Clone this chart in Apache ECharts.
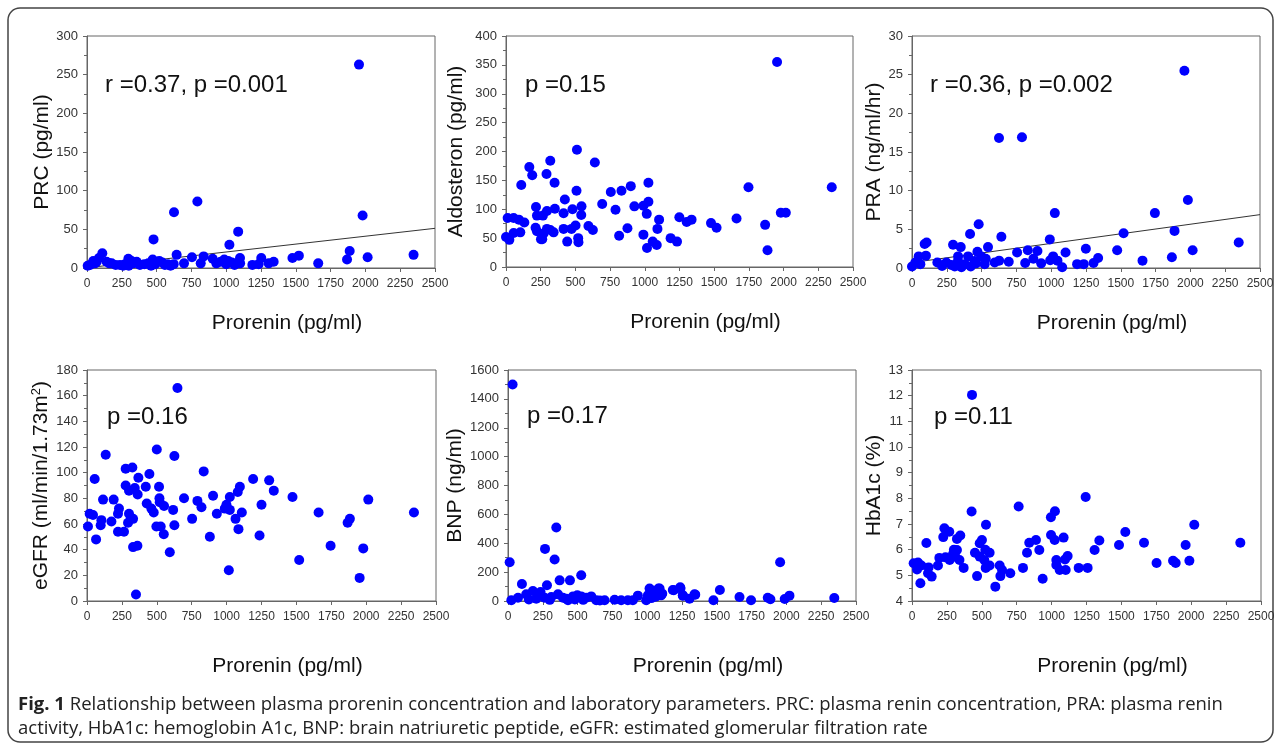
<!DOCTYPE html>
<html>
<head>
<meta charset="utf-8">
<script src="https://cdn.jsdelivr.net/npm/echarts@6/dist/echarts.min.js"></script>
<style>
  html, body { margin: 0; padding: 0; background: #fff; }
  #chart { width: 1281px; height: 749px; }
</style>
</head>
<body>
<div id="chart"></div>
<script>
// prorenin (x) vs parameter (y)
const prcPoints = [
  [1954,263],[1980,68],[793,86],[625,72],[478,37],[1086,47],[1023,30],[1887,22],[1868,11],[2016,14],
  [2346,17],[1661,6],[1476,13],[1522,16],[1341,8],[1305,6],[1252,13],[1233,5],[1188,4],[1099,13],
  [1075,6],[1041,7],[1015,9],[986,11],[929,6],[903,12],[838,15],[817,6],[754,14],[697,6],
  [644,17],[623,5],[580,5],[541,7],[508,8],[472,11],[440,6],[412,5],[357,8],[333,6],
  [297,12],[273,5],[237,4],[206,4],[177,6],[141,8],[110,19],[86,13],[57,6],[22,4],
  [5,3],[300,3],[320,9],[380,4],[460,3],[490,5],[520,9],[560,4],[600,3],[1060,4],
  [1100,6],[160,6],[260,3],[45,9],[70,8],[1000,5],[960,8]
];
const aldoPoints = [
  [1953,355],[2347,138],[1747,138],[1980,94],[2016,94],[1867,73],[1884,29],[1661,84],[1477,76],[1517,68],
  [1337,82],[1302,78],[1249,86],[1232,44],[1186,50],[1103,82],[1091,66],[1086,38],[1057,44],[1026,146],
  [1026,113],[1014,92],[1016,33],[990,106],[990,56],[925,105],[899,140],[875,67],[832,132],[815,54],
  [789,99],[755,130],[693,109],[640,181],[626,64],[594,71],[544,105],[542,90],[511,203],[508,132],
  [520,50],[522,43],[501,72],[479,100],[472,66],[441,44],[415,93],[424,117],[415,66],[350,146],
  [352,101],[319,184],[343,60],[319,64],[295,66],[271,58],[252,48],[292,161],[295,97],[261,48],
  [266,89],[216,104],[223,89],[213,68],[223,62],[189,159],[168,173],[132,77],[110,142],[103,60],
  [93,82],[55,85],[55,59],[12,85],[0,52],[24,47]
];
const praPoints = [
  [1957,25.5],[625,16.8],[790,16.9],[1982,8.8],[1745,7.1],[1026,7.1],[1520,4.5],[1886,4.8],[2347,3.3],[2016,2.3],
  [1867,1.4],[1656,0.95],[1474,2.3],[1337,1.3],[1304,0.65],[1249,2.5],[1234,0.5],[1186,0.5],[1103,2.0],[1079,0.1],
  [1045,0.95],[1014,1.5],[990,3.7],[993,1.0],[928,0.6],[901,2.2],[872,1.2],[832,2.3],[813,0.65],[755,2.0],
  [695,0.8],[642,4.05],[626,0.95],[594,0.7],[546,2.7],[479,5.65],[417,4.4],[470,2.1],[498,1.5],[522,0.5],
  [403,1.5],[422,0.2],[350,2.7],[295,3.0],[331,1.5],[283,0.4],[247,0.7],[216,0.26],[182,0.7],[105,3.3],
  [91,3.1],[100,1.6],[48,1.5],[24,0.7],[0,0.2],[307,0.2],[355,0.1],[379,0.5],[450,0.9],[330,0.9],
  [60,0.5],[530,1.2],[460,0.6]
];
const egfrPoints = [
  [648,166],[500,118],[626,113],[134,114],[277,103],[325,104],[55,95],[447,99],[368,96],[836,101],
  [1190,95],[1305,94],[1338,86],[1095,89],[1080,85],[516,89],[421,89],[277,90],[342,88],[301,86],
  [363,83],[428,76],[519,80],[521,77],[695,80],[191,79],[115,79],[903,82],[1023,81],[791,78],
  [820,73],[1472,81],[2015,79],[1250,75],[999,75],[987,72],[1023,71],[461,72],[478,69],[552,74],
  [229,72],[222,68],[19,68],[43,67],[617,71],[930,68],[1109,69],[1659,69],[2342,69],[301,68],
  [294,61],[330,64],[103,63],[98,59],[175,62],[1064,64],[753,64],[1883,64],[1867,61],[497,58],
  [528,58],[550,52],[626,59],[7,58],[222,54],[265,54],[1085,56],[880,50],[1236,51],[65,48],
  [1745,43],[330,42],[361,43],[1979,41],[593,38],[1520,32],[1016,24],[1953,18],[351,5]
];
const bnpPoints = [
  [33,1500],[12,268],[347,509],[266,361],[335,287],[1955,268],[526,178],[371,143],[445,143],[100,118],
  [280,109],[1522,76],[1184,76],[1237,95],[1017,86],[1081,86],[1048,62],[1108,51],[933,37],[1345,44],
  [1256,37],[1304,16],[1663,28],[1746,5],[1476,5],[1866,23],[1885,12],[1988,14],[2022,37],[2344,21],
  [179,69],[234,62],[131,46],[72,23],[24,5],[203,16],[263,23],[311,28],[359,46],[395,23],
  [431,5],[467,32],[498,39],[526,32],[562,23],[598,32],[634,5],[694,5],[766,9],[813,5],
  [861,5],[897,5],[993,5],[1005,39],[1029,74],[1065,62],[1089,86],[1100,39],[1191,74],[1239,86],
  [1256,39],[1340,46],[150,10],[300,8],[420,15],[480,10],[540,8],[660,4],[1030,20],[1060,30]
];
const hba1cPoints = [
  [430,12.03],[1244,8.05],[764,7.68],[427,7.49],[1024,7.5],[995,7.26],[2022,6.97],[530,6.97],[1528,6.69],[232,6.83],
  [267,6.7],[224,6.49],[346,6.55],[322,6.42],[501,6.38],[485,6.25],[103,6.26],[996,6.57],[1022,6.38],[1086,6.47],
  [888,6.38],[840,6.27],[1342,6.36],[1483,6.18],[1662,6.27],[1960,6.18],[2352,6.27],[1308,5.99],[912,5.99],[824,5.88],
  [525,6.0],[451,5.88],[556,5.88],[322,5.99],[310,5.73],[294,5.83],[270,5.6],[240,5.7],[196,5.68],[186,5.38],
  [43,5.5],[12,5.47],[67,5.38],[36,5.23],[119,5.31],[115,5.08],[141,4.95],[60,4.69],[370,5.29],[518,5.6],
  [485,5.73],[528,5.29],[556,5.38],[466,4.97],[597,4.56],[628,5.38],[645,5.21],[633,4.97],[704,5.08],[795,5.29],
  [936,4.87],[1034,5.6],[1034,5.4],[1058,5.21],[1101,5.21],[1096,5.62],[1115,5.75],[1194,5.29],[1258,5.29],[1752,5.48],
  [1870,5.57],[1889,5.48],[1987,5.57],[340,5.6],[300,6.0]
];
// regression lines (end points)
const prcFit = [[0, 0.3], [2500, 51.3]];
const praFit = [[0, 0.7], [2500, 6.9]];

const statTexts = ['r =0.37, p =0.001', 'p =0.15', 'r =0.36, p =0.002', 'p =0.16', 'p =0.17', 'p =0.11'];
const yNames = ['PRC (pg/ml)', 'Aldosteron (pg/ml)', 'PRA (ng/ml/hr)', 'eGFR (ml/min/1.73m{sup|2})', 'BNP (ng/ml)', 'HbA1c (%)'];
const yMin = [0, 0, 0, 0, 0, 4];
const yMax = [300, 400, 30, 180, 1600, 13];
const yStep = [50, 50, 5, 20, 200, 1];
const xName = 'Prorenin (pg/ml)';

const panels = [prcPoints, aldoPoints, praPoints, egfrPoints, bnpPoints, hba1cPoints];

const grids = [
  { left: 87, top: 36, width: 348, height: 232 },
  { left: 506, top: 36, width: 347, height: 231 },
  { left: 912, top: 36, width: 348, height: 232 },
  { left: 87, top: 370, width: 349, height: 231 },
  { left: 508, top: 370, width: 348, height: 231 },
  { left: 912, top: 370, width: 349, height: 231 }
];
const yNameGap = [34, 39, 27, 34, 41, 24];
const xNameGap = [45, 45, 45, 55, 55, 55];
const statPos = [[105, 85], [525, 85], [930, 85], [107, 417], [527, 416], [934, 417]];

const axisColor = '#666';
const font = '"Liberation Sans", Arial, sans-serif';
const plain = v => String(v);

const chart = echarts.init(document.getElementById('chart'));

const option = {
  backgroundColor: '#fff',
  animation: false,
  grid: grids.map(g => Object.assign({ show: true, borderColor: axisColor, borderWidth: 1 }, g)),
  xAxis: grids.map((g, i) => ({
    gridIndex: i,
    type: 'value',
    min: 0,
    max: 2500,
    interval: 250,
    name: xName,
    nameLocation: 'middle',
    nameGap: xNameGap[i],
    nameTextStyle: { fontSize: 21, color: '#111', fontFamily: font, padding: [0, 0, 0, 52] },
    axisLine: { lineStyle: { color: axisColor } },
    axisTick: { length: 4, lineStyle: { color: axisColor } },
    axisLabel: { fontSize: 12, color: '#333', fontFamily: font, margin: 10, formatter: plain },
    splitLine: { show: false }
  })),
  yAxis: grids.map((g, i) => ({
    gridIndex: i,
    type: 'value',
    min: yMin[i],
    max: yMax[i],
    interval: yStep[i],
    name: yNames[i],
    nameLocation: 'middle',
    nameRotate: 90,
    nameGap: yNameGap[i],
    nameTextStyle: {
      fontSize: 21, color: '#111', fontFamily: font,
      rich: { sup: { fontSize: 13, fontFamily: font, color: '#111', padding: [0, 0, 10, 0] } }
    },
    axisLine: { lineStyle: { color: axisColor } },
    axisTick: { length: 4, lineStyle: { color: axisColor } },
    minorTick: { show: true, splitNumber: 2, length: 3, lineStyle: { color: axisColor } },
    axisLabel: { fontSize: 13, color: '#333', fontFamily: font, margin: 9, formatter: plain },
    splitLine: { show: false }
  })),
  series: [
    ...panels.map((pts, i) => ({
      type: 'scatter',
      xAxisIndex: i,
      yAxisIndex: i,
      data: pts,
      symbolSize: 10,
      itemStyle: { color: '#0000ff', opacity: 1 },
      z: 3,
      silent: true
    })),
    {
      type: 'line', xAxisIndex: 0, yAxisIndex: 0, data: prcFit,
      showSymbol: false, lineStyle: { color: '#333', width: 1 }, z: 2, silent: true
    },
    {
      type: 'line', xAxisIndex: 2, yAxisIndex: 2, data: praFit,
      showSymbol: false, lineStyle: { color: '#333', width: 1 }, z: 2, silent: true
    }
  ],
  graphic: [
    {
      type: 'rect',
      shape: { x: 8, y: 8, width: 1265, height: 734, r: 12 },
      style: { fill: 'none', stroke: '#444', lineWidth: 1.5 },
      z: 0
    },
    ...statTexts.map((t, i) => ({
      type: 'text',
      x: statPos[i][0],
      y: statPos[i][1],
      style: { text: t, font: '24px ' + font, fill: '#111', verticalAlign: 'middle' },
      z: 10
    })),
    {
      type: 'text',
      x: 18,
      y: 705,
      style: {
        text: '{b|Fig. 1} Relationship between plasma prorenin concentration and laboratory parameters. PRC: plasma renin concentration, PRA: plasma renin',
        font: '18.5px "Open Sans", sans-serif',
        fill: '#222',
        verticalAlign: 'middle',
        rich: { b: { fontWeight: 'bold', fontSize: 18.5, fontFamily: 'Open Sans', fill: '#222' } }
      }
    },
    {
      type: 'text',
      x: 18,
      y: 729,
      style: {
        text: 'activity, HbA1c: hemoglobin A1c, BNP: brain natriuretic peptide, eGFR: estimated glomerular filtration rate',
        font: '18.5px "Open Sans", sans-serif',
        fill: '#222',
        verticalAlign: 'middle'
      }
    }
  ]
};

chart.setOption(option);
</script>
</body>
</html>
